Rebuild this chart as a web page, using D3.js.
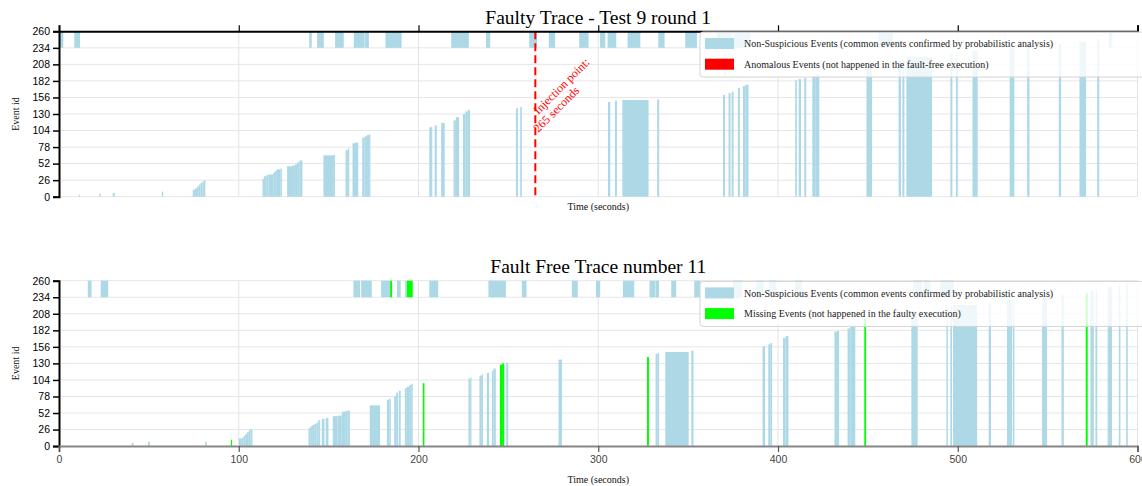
<!DOCTYPE html>
<html>
<head>
<meta charset="utf-8">
<script src="https://cdn.jsdelivr.net/npm/d3@7"></script>
<style>
  body { margin: 0; background: #fff; }
  svg { display: block; overflow: hidden; }
</style>
</head>
<body>
<svg id="chart" width="1142" height="486"></svg>
<script>
// ---- axis ticks ----
const timeTicks = [0, 100, 200, 300, 400, 500, 600];
const idTicks = [0, 26, 52, 78, 104, 130, 156, 182, 208, 234, 260];
const bandIds = [234, 260];          // id range of the upper event band
const injectionTime = 265;           // seconds

// ---- Faulty trace (test 9, round 1) ----
// [start (s), end (s), event id]
const faultyEvents = [
  [11.0, 11.5, 3], [22.5, 23.3, 5], [29.9, 31.0, 6], [57.2, 58.0, 8],
  [74.4, 75.6, 11], [75.6, 76.8, 13], [76.8, 77.8, 16], [77.8, 78.8, 19], [78.8, 79.8, 22], [79.8, 80.6, 24], [80.6, 81.4, 26],
  [113.2, 114.0, 28], [114.0, 115.3, 32], [115.3, 116.5, 34], [116.5, 119.2, 35], [119.2, 120.2, 38], [120.2, 121.2, 41], [121.2, 123.2, 43], [123.2, 124.0, 44],
  [126.9, 129.6, 48], [129.6, 131.2, 49], [131.2, 132.5, 51], [132.5, 133.8, 54], [133.8, 135.4, 57],
  [147.1, 152.9, 65], [152.9, 153.5, 66],
  [159.4, 160.7, 73], [160.7, 161.5, 76],
  [163.3, 164.7, 84], [164.7, 166.5, 85],
  [168.7, 170.0, 93], [170.0, 171.3, 95], [171.3, 172.6, 97], [172.6, 173.2, 98],
  [206.0, 207.0, 109], [207.0, 207.6, 110], [209.0, 210.2, 112], [212.6, 214.6, 116],
  [219.5, 220.8, 120], [220.8, 222.6, 125], [224.7, 226.0, 130], [226.0, 227.4, 134], [227.4, 228.7, 136],
  [254.2, 255.3, 139], [256.6, 257.5, 141],
  [305.4, 306.7, 149], [309.3, 310.4, 151], [313.4, 328.0, 152], [332.8, 333.9, 153],
  [369.4, 370.5, 160], [372.5, 373.6, 163], [374.2, 375.3, 165], [377.7, 378.8, 171], [380.5, 381.8, 174], [381.8, 383.6, 176],
  [409.6, 410.5, 183], [411.5, 412.8, 185], [414.6, 415.7, 187], [419.1, 421.0, 189], [421.0, 423.0, 192],
  [449.2, 452.3, 205], [467.1, 468.4, 214], [469.2, 470.3, 216], [471.4, 485.7, 220],
  [495.9, 497.0, 224], [499.0, 499.9, 226], [508.2, 511.1, 229], [528.9, 531.5, 233],
  [538.6, 539.9, 236], [556.2, 557.5, 240], [567.7, 571.4, 244], [577.6, 578.7, 248]
];
// [start (s), end (s)] events in the upper band
const faultyBand = [
  [0.0, 2.4], [8.5, 11.7], [139.2, 140.6], [143.6, 147.3], [153.6, 158.4], [164.0, 169.7], [169.9, 172.4],
  [181.6, 190.6], [218.2, 228.0], [237.5, 239.9], [261.6, 265.9], [272.5, 276.0], [289.4, 294.6],
  [301.0, 303.9], [305.2, 310.0], [316.3, 323.4], [333.4, 336.9], [348.4, 354.9], [366.0, 374.4],
  [375.3, 384.6], [456.0, 464.0], [584.0, 586.0]
];
const faultyAnomalous = [];
const faultyAnomalousBand = [];

// ---- Fault free trace number 11 ----
const freeEvents = [
  [40.4, 41.4, 5], [49.5, 50.5, 7], [81.3, 82.2, 7],
  [100.0, 101.5, 12], [101.5, 102.6, 13], [102.6, 103.6, 16], [103.6, 104.6, 19], [104.6, 105.6, 22], [105.6, 106.6, 25], [106.6, 107.6, 27],
  [138.8, 139.8, 28], [139.8, 140.8, 31], [140.8, 142.0, 33], [142.0, 143.3, 35], [143.3, 144.3, 37], [144.3, 145.3, 41],
  [146.2, 147.7, 43], [148.4, 149.9, 44], [152.3, 155.0, 47], [155.0, 157.3, 48], [157.3, 159.2, 54], [159.2, 160.6, 55], [160.6, 161.8, 56],
  [172.9, 178.6, 64], [182.4, 183.8, 73], [183.8, 184.6, 75], [186.5, 187.6, 79], [187.6, 188.6, 84], [189.0, 190.1, 87],
  [192.4, 193.5, 91], [193.5, 194.8, 93], [194.8, 196.0, 96], [196.0, 196.8, 98],
  [227.8, 228.8, 106], [228.8, 229.3, 108], [233.9, 235.2, 111], [235.2, 235.8, 113], [238.0, 239.3, 115],
  [240.8, 241.7, 118], [241.7, 243.0, 122], [248.8, 249.9, 131], [277.9, 279.8, 136],
  [331.9, 333.0, 145], [333.0, 333.9, 146], [337.3, 350.3, 148], [351.8, 353.0, 150],
  [391.4, 392.8, 157], [394.6, 395.7, 160], [395.7, 396.7, 162], [402.8, 404.2, 170], [404.2, 405.8, 173],
  [431.4, 432.8, 180], [432.8, 434.0, 181], [438.7, 440.2, 185], [440.2, 443.0, 188],
  [474.2, 477.7, 212], [493.7, 494.5, 218], [495.9, 496.8, 220], [497.4, 510.8, 222], [517.2, 518.5, 226],
  [527.4, 530.2, 230], [530.6, 531.5, 231], [546.9, 549.7, 235], [557.7, 559.0, 238],
  [573.8, 575.7, 244], [576.6, 577.6, 246], [583.4, 585.8, 250], [589.6, 590.5, 253], [593.7, 594.6, 256]
];
const freeBand = [
  [16.0, 18.1], [23.2, 27.4], [163.8, 167.5], [168.1, 174.0], [179.2, 184.2], [188.0, 190.1], [192.6, 193.5],
  [206.0, 211.0], [238.9, 248.6], [257.5, 260.1], [285.3, 288.6], [298.7, 301.1], [313.7, 320.0],
  [328.5, 331.9], [332.1, 333.8], [340.6, 343.4], [353.4, 356.8], [375.0, 380.0], [388.0, 392.0],
  [395.0, 399.0], [409.6, 413.3], [475.3, 480.1], [481.0, 484.8], [490.3, 497.7]
];
const freeMissing = [
  [95.6, 96.3, 10], [202.4, 203.3, 99], [245.3, 246.5, 128], [246.5, 247.7, 130],
  [327.1, 328.2, 140], [448.0, 449.0, 200], [571.2, 572.3, 240]
];
const freeMissingBand = [[184.2, 185.3], [193.5, 196.8]];

// ---- layout ----
const left = 59, right = 1137.5, plotH = 165.4, legendX = 700;
const blue = "#add8e6";
const svg = d3.select("#chart");
const x = d3.scaleLinear().domain([0, 600]).range([left, right]);

function drawPanel(cfg) {
  const y = d3.scaleLinear().domain([0, 260]).range([cfg.top + plotH, cfg.top]);
  const g = svg.append("g");

  // grid
  g.append("g").selectAll("line").data(idTicks).join("line")
    .attr("x1", left).attr("x2", right)
    .attr("y1", d => y(d)).attr("y2", d => y(d))
    .attr("stroke", "#e6e6e6").attr("stroke-width", 1);
  g.append("g").selectAll("line").data(timeTicks.slice(1)).join("line")
    .attr("x1", d => x(d)).attr("x2", d => x(d))
    .attr("y1", y(260)).attr("y2", y(0))
    .attr("stroke", "#e3e3e3").attr("stroke-width", 1);

  const barW = d => Math.max(x(d[1]) - x(d[0]), 1.2);
  const bars = (data, color) => g.append("g").selectAll("rect").data(data).join("rect")
    .attr("x", d => x(d[0])).attr("width", barW)
    .attr("y", d => y(d[2])).attr("height", d => y(0) - y(d[2]))
    .attr("fill", color);
  const band = (data, color) => g.append("g").selectAll("rect").data(data).join("rect")
    .attr("x", d => x(d[0])).attr("width", barW)
    .attr("y", y(bandIds[1])).attr("height", y(bandIds[0]) - y(bandIds[1]))
    .attr("fill", color);

  bars(cfg.events, blue);
  band(cfg.band, blue);
  bars(cfg.flagged, cfg.flagColor);
  band(cfg.flaggedBand, cfg.flagColor);

  // injection marker
  if (cfg.injection) {
    g.append("line")
      .attr("x1", x(injectionTime)).attr("x2", x(injectionTime))
      .attr("y1", y(260)).attr("y2", y(0))
      .attr("stroke", "red").attr("stroke-width", 2).attr("stroke-dasharray", "8,4");
    const lines = ["Injection point:", injectionTime + " seconds"];
    lines.forEach((t, i) => {
      const tx = x(injectionTime) + 3, ty = y(130) + 1 + i * 18;
      g.append("text").text(t)
        .attr("x", tx).attr("y", ty)
        .attr("transform", `rotate(-45,${tx},${ty})`)
        .attr("fill", "red").attr("font-family", "Liberation Serif, Times New Roman, serif")
        .attr("font-size", 12);
    });
  }

  // axes
  const yAxis = g.append("g").attr("transform", `translate(${left},0)`)
    .call(d3.axisLeft(y).tickValues(idTicks).tickSize(6));
  yAxis.select(".domain").attr("stroke", "#000").attr("stroke-width", 2);
  yAxis.selectAll(".tick line").attr("stroke", "#000").attr("stroke-width", 1.5);
  yAxis.selectAll("text").attr("font-family", "Liberation Sans, Arial, sans-serif")
    .attr("font-size", 10.5).attr("fill", "#000");

  if (cfg.axisTop) {
    const xa = g.append("g").attr("transform", `translate(0,${y(260)})`)
      .call(d3.axisTop(x).tickValues(timeTicks).tickSize(6).tickFormat(""));
    xa.select(".domain").attr("stroke", "#000").attr("stroke-width", 2);
    xa.selectAll(".tick line").attr("stroke", "#000").attr("stroke-width", 1.2);
  } else {
    const xa = g.append("g").attr("transform", `translate(0,${y(0)})`)
      .call(d3.axisBottom(x).tickValues(timeTicks).tickSize(6));
    xa.select(".domain").attr("stroke", "#888").attr("stroke-width", 2);
    xa.selectAll(".tick line").attr("stroke", "#555").attr("stroke-width", 1.2);
    xa.selectAll("text").attr("font-family", "Liberation Sans, Arial, sans-serif")
      .attr("font-size", 10.5).attr("fill", "#444");
  }

  // axis titles
  g.append("text").text("Event id")
    .attr("transform", `translate(18.5,${cfg.top + plotH / 2}) rotate(-90)`)
    .attr("text-anchor", "middle")
    .attr("font-family", "Liberation Serif, Times New Roman, serif").attr("font-size", 10).attr("fill", "#111");
  g.append("text").text("Time (seconds)")
    .attr("x", (left + right) / 2).attr("y", y(0) + cfg.timeLabelOffset)
    .attr("text-anchor", "middle")
    .attr("font-family", "Liberation Serif, Times New Roman, serif").attr("font-size", 10).attr("fill", "#111");

  // chart title
  g.append("text").text(cfg.title)
    .attr("x", (left + right) / 2).attr("y", cfg.top - 7.3)
    .attr("text-anchor", "middle")
    .attr("font-family", "Liberation Serif, Times New Roman, serif").attr("font-size", 19.5).attr("fill", "#000");

  // legend
  const lg = g.append("g").attr("transform", `translate(${legendX},${cfg.top + 0.7})`);
  lg.append("rect").attr("x", 0).attr("y", 0).attr("width", 470).attr("height", 45)
    .attr("rx", 3).attr("fill", "#fff").attr("fill-opacity", 0.8)
    .attr("stroke", "#d4d4d4").attr("stroke-width", 1);
  const items = [[blue, cfg.legend[0]], [cfg.flagColor, cfg.legend[1]]];
  items.forEach(([c, t], i) => {
    lg.append("rect").attr("x", 5).attr("y", 6 + i * 20.7).attr("width", 29).attr("height", 11).attr("fill", c);
    lg.append("text").text(t).attr("x", 44).attr("y", 15.2 + i * 20.8)
      .attr("font-family", "Liberation Serif, Times New Roman, serif").attr("font-size", 10).attr("fill", "#222");
  });
}

drawPanel({
  top: 31.3,
  title: "Faulty Trace - Test 9 round 1",
  events: faultyEvents, band: faultyBand,
  flagged: faultyAnomalous, flaggedBand: faultyAnomalousBand, flagColor: "#ff0000",
  legend: ["Non-Suspicious Events (common events confirmed by probabilistic analysis)",
           "Anomalous Events (not happened in the fault-free execution)"],
  axisTop: true, injection: true, timeLabelOffset: 13.5
});

drawPanel({
  top: 280.7,
  title: "Fault Free Trace number 11",
  events: freeEvents, band: freeBand,
  flagged: freeMissing, flaggedBand: freeMissingBand, flagColor: "#00ff00",
  legend: ["Non-Suspicious Events (common events confirmed by probabilistic analysis)",
           "Missing Events (not happened in the faulty execution)"],
  axisTop: false, injection: false, timeLabelOffset: 36.5
});
</script>
</body>
</html>
